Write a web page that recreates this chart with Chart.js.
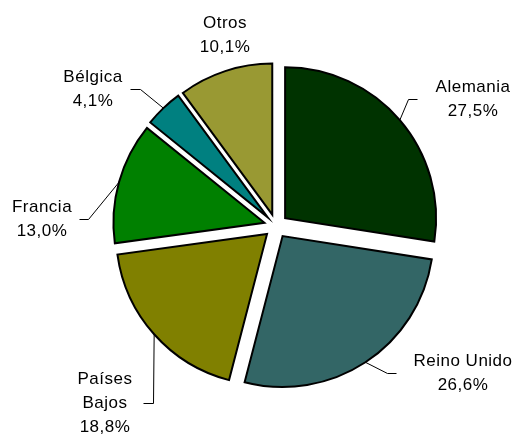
<!DOCTYPE html>
<html>
<head>
<meta charset="utf-8">
<script src="https://cdn.jsdelivr.net/npm/chart.js@4/dist/chart.umd.min.js"></script>
<style>
  body { margin: 0; background: #fff; }
  canvas { display: block; }
</style>
</head>
<body>
<canvas id="grafico" width="520" height="434"></canvas>
<script>
"use strict";
const paises = ["Alemania", "Reino Unido", "Países Bajos", "Francia", "Bélgica", "Otros"];
const cuotas = [27.5, 26.6, 18.8, 13.0, 4.1, 10.1];
const colores = ["#003300", "#336666", "#808000", "#008000", "#008080", "#999933"];

// label placement: centre x, first baseline, leader elbow and leader end (null = no leader)
const rotulos = [
    {x: 473, y: 92,  lineas: ["Alemania"],        codo: [408, 99],  fin: [417, 99]},
    {x: 463, y: 366, lineas: ["Reino Unido"],     codo: [387, 373], fin: [396, 373]},
    {x: 105, y: 384, lineas: ["Países", "Bajos"], codo: [153, 403], fin: [143, 403]},
    {x: 42,  y: 212, lineas: ["Francia"],         codo: [88, 219],  fin: [79, 219]},
    {x: 93,  y: 82,  lineas: ["Bélgica"],         codo: [140, 89],  fin: [130, 89]},
    {x: 225, y: 28,  lineas: ["Otros"],           codo: null,       fin: null}
];
const SEPARACION = 12;   // how far every slice is pulled out
const INTERLINEA = 24;

window.onload = function(){
    let canvas = document.getElementById("grafico");

    // pull each slice out along its middle angle, without growing the small ones
    let separar = {
        id: "separar",
        afterDatasetUpdate(chart, args){
            for (const arc of args.meta.data) {
                let medio = (arc.startAngle + arc.endAngle) / 2;
                arc.x += Math.cos(medio) * SEPARACION;
                arc.y += Math.sin(medio) * SEPARACION;
            }
        }
    };

    let etiquetas = {
        id: "etiquetas",
        afterDatasetsDraw(chart){
            let ctx = chart.ctx;
            let arcs = chart.getDatasetMeta(0).data;
            ctx.save();
            ctx.strokeStyle = "#000";
            ctx.lineWidth = 1;
            for (let i = 0; i < arcs.length; i++) {
                let r = rotulos[i];
                if (!r.codo) continue;
                let arc = arcs[i];
                let medio = (arc.startAngle + arc.endAngle) / 2;
                let px = arc.x + Math.cos(medio) * arc.outerRadius;
                let py = arc.y + Math.sin(medio) * arc.outerRadius;
                ctx.beginPath();
                ctx.moveTo(px, py);
                ctx.lineTo(r.codo[0] + 0.5, r.codo[1] + 0.5);
                ctx.lineTo(r.fin[0] + 0.5, r.fin[1] + 0.5);
                ctx.stroke();
            }
            ctx.font = "17px 'Liberation Sans', Arial, sans-serif";
            ctx.letterSpacing = "0.5px";
            ctx.fillStyle = "#000";
            ctx.textAlign = "center";
            ctx.textBaseline = "alphabetic";
            for (let i = 0; i < rotulos.length; i++) {
                let r = rotulos[i];
                let texto = r.lineas.concat([cuotas[i].toFixed(1).replace(".", ",") + "%"]);
                texto.forEach(function(t, k){
                    ctx.fillText(t, r.x, r.y + k * INTERLINEA);
                });
            }
            ctx.restore();
        }
    };

    let chart = new Chart(canvas, {
        type: "pie",
        data: {
            labels: paises,
            datasets: [{
                data: cuotas,
                backgroundColor: colores,
                borderColor: "#000",
                borderWidth: 2,
                borderJoinStyle: "miter",
                radius: 151
            }]
        },
        options: {
            responsive: false,
            animation: false,
            events: [],
            layout: {padding: {left: 32, right: 0, top: 18, bottom: 0}},
            plugins: {
                legend: {display: false},
                tooltip: {enabled: false}
            }
        },
        plugins: [separar, etiquetas]
    });
};
</script>
</body>
</html>
